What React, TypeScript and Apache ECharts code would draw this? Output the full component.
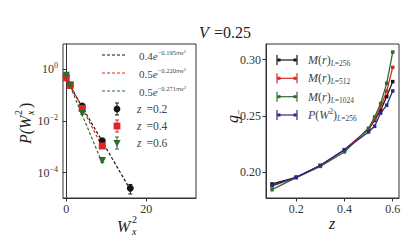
import React, { useEffect, useRef } from 'react';
import * as echarts from 'echarts';

// ---- Left panel data: P(W_x^2) ----
const w2Z02 = [0, 1, 4, 9, 16];
const pZ02 = [0.54, 0.24, 0.037, 0.0017, 0.000025];
const eZ02 = [0.02, 0.01, 0.003, 0.0003, 0.00001];
const w2Z04 = [0, 1, 4, 9];
const pZ04 = [0.46, 0.235, 0.03, 0.00107];
const eZ04 = [0.02, 0.01, 0.003, 0.00015];
const w2Z06 = [0, 1, 4, 9];
const pZ06 = [0.57, 0.24, 0.0195, 0.00029];
const eZ06 = [0.02, 0.01, 0.002, 0.00004];
// fitted lines (end points, straight on log axis)
const fitW02 = [0, 16];
const fitP02 = [0.4, 0.000022];
const fitW04 = [0, 9];
const fitP04 = [0.5, 0.00099];
const fitW06 = [0, 9];
const fitP06 = [0.5, 0.00024];
const leftXTicks = [0, 20];
const leftYTicks = [1e-4, 1e-2, 1];

// ---- Right panel data: g_- vs z ----
const zVals = [0.1, 0.2, 0.3, 0.4, 0.5, 0.525, 0.55, 0.575, 0.6];
const gM256 = [0.1894, 0.1953, 0.2057, 0.2199, 0.238, 0.246, 0.255, 0.2672, 0.2805];
const gM512 = [0.1875, 0.1953, 0.2057, 0.2197, 0.2385, 0.247, 0.258, 0.272, 0.2932];
const gM1024 = [0.1843, 0.195, 0.205, 0.2179, 0.239, 0.249, 0.261, 0.279, 0.3068];
const gP256 = [0.1882, 0.1953, 0.206, 0.2199, 0.2357, 0.2407, 0.2525, 0.2595, 0.2722];
const rightXTicks = [0.2, 0.4, 0.6];
const rightYTicks = [0.2, 0.25, 0.3];

const BLACK = '#151515';
const RED = '#e02424';
const GREEN = '#2f6a31';
const BLUE = '#2a2a8c';
const AX = '#333333';
const SERIF = "'Liberation Serif', 'DejaVu Serif', serif";

const zip = (a: number[], b: number[]) => a.map((v, i) => [v, b[i]]);

function errSeries(xs: number[], ys: number[], es: number[], color: string, xIdx: number) {
  return {
    type: 'custom',
    xAxisIndex: xIdx,
    yAxisIndex: xIdx,
    silent: true,
    z: 3,
    data: xs.map((x, i) => [x, ys[i] - es[i], ys[i] + es[i]]),
    renderItem: (params: any, api: any) => {
      const x = api.value(0);
      const lo = api.coord([x, api.value(1)]);
      const hi = api.coord([x, api.value(2)]);
      const cap = 2;
      const st = { stroke: color, lineWidth: 1 };
      return {
        type: 'group',
        children: [
          { type: 'line', shape: { x1: lo[0], y1: lo[1], x2: hi[0], y2: hi[1] }, style: st },
          { type: 'line', shape: { x1: lo[0] - cap, y1: lo[1], x2: lo[0] + cap, y2: lo[1] }, style: st },
          { type: 'line', shape: { x1: hi[0] - cap, y1: hi[1], x2: hi[0] + cap, y2: hi[1] }, style: st },
        ],
      };
    },
  };
}

function txt(x: number, y: number, text: string, extra: any = {}) {
  return {
    type: 'text',
    x,
    y,
    silent: true,
    style: {
      text,
      fontFamily: SERIF,
      fontSize: 11,
      fill: '#222',
      align: 'left',
      textAlign: 'left',
      verticalAlign: 'middle',
      textVerticalAlign: 'middle',
      ...extra,
    },
  };
}

function buildGraphics() {
  const g: any[] = [];
  // title
  g.push(txt(199, 32, 'V', { fontStyle: 'italic', fontSize: 16, fill: '#222' }));
  g.push(txt(214, 32, '=0.25', { fontSize: 16, fill: '#222' }));

  // left legend: dashed fit lines
  const fits = [
    { c: BLACK, a: '0.4', s: '−0.195πw²', y: 55 },
    { c: RED, a: '0.5', s: '−0.220πw²', y: 73 },
    { c: GREEN, a: '0.5', s: '−0.271πw²', y: 91 },
  ];
  fits.forEach((f) => {
    g.push({
      type: 'line', silent: true,
      shape: { x1: 102, y1: f.y, x2: 127, y2: f.y },
      style: { stroke: f.c, lineWidth: 1.2, lineDash: [3, 2] },
    });
    g.push(txt(139, f.y + 1, `{n|${f.a}}{i|e}{s|${f.s}}`, {
      rich: {
        n: { fontFamily: SERIF, fontSize: 11, fill: '#444', lineHeight: 14 },
        i: { fontFamily: SERIF, fontStyle: 'italic', fontSize: 11, fill: '#444', lineHeight: 14 },
        s: { fontFamily: SERIF, fontSize: 6.5, fill: '#444', verticalAlign: 'top', lineHeight: 8 },
      },
    }));
  });
  // left legend: markers with error bars
  const mk = [
    { c: BLACK, t: 'circle', lbl: '0.2', y: 109 },
    { c: RED, t: 'rect', lbl: '0.4', y: 126 },
    { c: GREEN, t: 'tri', lbl: '0.6', y: 143 },
  ];
  mk.forEach((m) => {
    const x = 117;
    const st = { stroke: m.c, lineWidth: 1 };
    g.push({ type: 'line', silent: true, shape: { x1: x, y1: m.y - 6, x2: x, y2: m.y + 6 }, style: st });
    g.push({ type: 'line', silent: true, shape: { x1: x - 2, y1: m.y - 6, x2: x + 2, y2: m.y - 6 }, style: st });
    g.push({ type: 'line', silent: true, shape: { x1: x - 2, y1: m.y + 6, x2: x + 2, y2: m.y + 6 }, style: st });
    if (m.t === 'circle') {
      g.push({ type: 'circle', silent: true, shape: { cx: x, cy: m.y, r: 3.4 }, style: { fill: m.c } });
    } else if (m.t === 'rect') {
      g.push({ type: 'rect', silent: true, shape: { x: x - 3.4, y: m.y - 3.4, width: 6.8, height: 6.8 }, style: { fill: m.c } });
    } else {
      g.push({ type: 'polygon', silent: true, shape: { points: [[x - 3.7, m.y - 3], [x + 3.7, m.y - 3], [x, m.y + 3.7]] }, style: { fill: m.c } });
    }
    g.push(txt(137, m.y, 'z', { fontStyle: 'italic', fontSize: 11.5, fill: '#444' }));
    g.push(txt(146.5, m.y, '=' + m.lbl, { fontSize: 11.5, fill: '#444' }));
  });

  // right legend
  const rl = [
    { c: BLACK, y: 60, txt: '{i|M}{n|(}{i|r}{n|)}{sub|L}{sn|=256}' },
    { c: RED, y: 78.3, txt: '{i|M}{n|(}{i|r}{n|)}{sub|L}{sn|=512}' },
    { c: GREEN, y: 96.7, txt: '{i|M}{n|(}{i|r}{n|)}{sub|L}{sn|=1024}' },
    { c: BLUE, y: 115, txt: '{i|P}{n|(}{i|W}{sup|2}{n|)}{sub|L}{sn|=256}' },
  ];
  rl.forEach((r) => {
    const st = { stroke: r.c, lineWidth: 1.2 };
    g.push({ type: 'line', silent: true, shape: { x1: 277, y1: r.y, x2: 297, y2: r.y }, style: st });
    g.push({ type: 'line', silent: true, shape: { x1: 277, y1: r.y - 5, x2: 277, y2: r.y + 5 }, style: st });
    g.push({ type: 'line', silent: true, shape: { x1: 297, y1: r.y - 5, x2: 297, y2: r.y + 5 }, style: st });
    g.push({ type: 'rect', silent: true, shape: { x: 277.5, y: r.y - 1.5, width: 3, height: 3 }, style: { fill: r.c } });
    g.push({ type: 'rect', silent: true, shape: { x: 293.5, y: r.y - 1.5, width: 3, height: 3 }, style: { fill: r.c } });
    g.push(txt(308, r.y, r.txt, {
      rich: {
        i: { fontFamily: SERIF, fontStyle: 'italic', fontSize: 12, fill: '#444', lineHeight: 15 },
        n: { fontFamily: SERIF, fontSize: 12, fill: '#444', lineHeight: 15 },
        sub: { fontFamily: SERIF, fontStyle: 'italic', fontSize: 7.5, fill: '#444', verticalAlign: 'bottom', lineHeight: 9 },
        sn: { fontFamily: SERIF, fontSize: 7.5, fill: '#444', verticalAlign: 'bottom', lineHeight: 9 },
        sup: { fontFamily: SERIF, fontSize: 7.5, fill: '#444', verticalAlign: 'top', lineHeight: 9 },
      },
    }));
  });

  // left x title W_x^2
  g.push(txt(117, 226, 'W', { fontStyle: 'italic', fontSize: 16, fill: '#222' }));
  g.push(txt(132, 219, '2', { fontSize: 10, fill: '#222' }));
  g.push(txt(132, 231, 'x', { fontStyle: 'italic', fontSize: 10, fill: '#222' }));
  // left y title P(W_x^2), rotated
  g.push({
    type: 'group', x: 25, y: 121, rotation: Math.PI / 2, silent: true,
    children: [
      txt(-23, 0, 'P(W', { fontStyle: 'italic', fontSize: 16, fill: '#222' }),
      txt(6, -7, '2', { fontSize: 10, fill: '#222' }),
      txt(6, 5, 'x', { fontStyle: 'italic', fontSize: 10, fill: '#222' }),
      txt(13, 0, ')', { fontSize: 16, fill: '#222' }),
    ],
  });
  // right x title z
  g.push(txt(332, 223, 'z', { fontStyle: 'italic', fontSize: 16, fill: '#222', align: 'center', textAlign: 'center' }));
  // right y title g_-
  g.push({
    type: 'group', x: 233, y: 117, rotation: Math.PI / 2, silent: true,
    children: [
      txt(-6, -1, 'g', { fontStyle: 'italic', fontSize: 16, fill: '#222' }),
      txt(2, 5, '−', { fontSize: 10, fill: '#222' }),
    ],
  });
  return g;
}

export default function App() {
  const ref = useRef<HTMLDivElement>(null);
  useEffect(() => {
    if (!ref.current) return;
    const chart = echarts.init(ref.current, null, { renderer: 'svg' });
    const tickLabelStyle = { fontFamily: SERIF, fontSize: 12, color: '#333' };
    const axisCommon = {
      axisLine: { show: true, lineStyle: { color: AX, width: 1 } },
      splitLine: { show: false },
    };
    const option: any = {
      animation: false,
      backgroundColor: '#ffffff',
      grid: [
        { left: 63, top: 44, width: 133, height: 154, show: true, borderColor: AX, borderWidth: 1, backgroundColor: 'transparent' },
        { left: 266, top: 44, width: 133, height: 154, show: true, borderColor: AX, borderWidth: 1, backgroundColor: 'transparent' },
      ],
      xAxis: [
        {
          type: 'value', gridIndex: 0, min: -0.8, max: 32.4, ...axisCommon,
          axisTick: { show: true, inside: false, length: 3.5, lineStyle: { color: AX }, customValues: leftXTicks },
          axisLabel: { ...tickLabelStyle, margin: 5, customValues: leftXTicks, formatter: (v: number) => String(v) },
        },
        {
          type: 'value', gridIndex: 1, min: 0.075, max: 0.626, ...axisCommon,
          axisTick: { show: true, inside: false, length: 3.5, lineStyle: { color: AX }, customValues: rightXTicks },
          axisLabel: { ...tickLabelStyle, margin: 5, customValues: rightXTicks, formatter: (v: number) => v.toFixed(1) },
        },
      ],
      yAxis: [
        {
          type: 'log', logBase: 10, gridIndex: 0, min: 0.0000105, max: 9.3, ...axisCommon,
          axisTick: { show: true, inside: false, length: 3.5, lineStyle: { color: AX }, customValues: leftYTicks },
          axisLabel: {
            margin: 5,
            customValues: leftYTicks,
            formatter: (v: number) => {
              const e = Math.round(Math.log10(v));
              return `{b|10}{s|${e < 0 ? '−' + -e : e}}`;
            },
            rich: {
              b: { fontFamily: SERIF, fontSize: 12, color: '#333', lineHeight: 15 },
              s: { fontFamily: SERIF, fontSize: 8, color: '#333', verticalAlign: 'top', lineHeight: 9 },
            },
          },
        },
        {
          type: 'value', gridIndex: 1, min: 0.1769, max: 0.314, ...axisCommon,
          axisTick: { show: true, inside: false, length: 3.5, lineStyle: { color: AX }, customValues: rightYTicks },
          axisLabel: { ...tickLabelStyle, margin: 5, customValues: rightYTicks, formatter: (v: number) => v.toFixed(2) },
        },
      ],
      series: [
        // fits
        { type: 'line', xAxisIndex: 0, yAxisIndex: 0, data: zip(fitW02, fitP02), symbol: 'none', z: 2, lineStyle: { color: BLACK, width: 1.2, type: [3, 2] } },
        { type: 'line', xAxisIndex: 0, yAxisIndex: 0, data: zip(fitW04, fitP04), symbol: 'none', z: 2, lineStyle: { color: RED, width: 1.2, type: [3, 2] } },
        { type: 'line', xAxisIndex: 0, yAxisIndex: 0, data: zip(fitW06, fitP06), symbol: 'none', z: 2, lineStyle: { color: GREEN, width: 1.2, type: [3, 2] } },
        // error bars + markers
        errSeries(w2Z02, pZ02, eZ02, BLACK, 0),
        { type: 'scatter', xAxisIndex: 0, yAxisIndex: 0, data: zip(w2Z02, pZ02), symbol: 'circle', symbolSize: 7, itemStyle: { color: BLACK, opacity: 1 }, z: 4 },
        errSeries(w2Z04, pZ04, eZ04, RED, 0),
        { type: 'scatter', xAxisIndex: 0, yAxisIndex: 0, data: zip(w2Z04, pZ04), symbol: 'rect', symbolSize: 7, itemStyle: { color: RED, opacity: 1 }, z: 5 },
        errSeries(w2Z06, pZ06, eZ06, GREEN, 0),
        { type: 'scatter', xAxisIndex: 0, yAxisIndex: 0, data: zip(w2Z06, pZ06), symbol: 'triangle', symbolRotate: 180, symbolSize: 7.5, itemStyle: { color: GREEN, opacity: 1 }, z: 6 },
        // right panel
        { type: 'line', xAxisIndex: 1, yAxisIndex: 1, data: zip(zVals, gM256), symbol: 'rect', symbolSize: 3.5, showSymbol: true, itemStyle: { color: BLACK }, lineStyle: { color: BLACK, width: 1.3 }, z: 2 },
        { type: 'line', xAxisIndex: 1, yAxisIndex: 1, data: zip(zVals, gM512), symbol: 'rect', symbolSize: 3.5, showSymbol: true, itemStyle: { color: RED }, lineStyle: { color: RED, width: 1.3 }, z: 3 },
        { type: 'line', xAxisIndex: 1, yAxisIndex: 1, data: zip(zVals, gM1024), symbol: 'rect', symbolSize: 3.5, showSymbol: true, itemStyle: { color: GREEN }, lineStyle: { color: GREEN, width: 1.3 }, z: 4 },
        { type: 'line', xAxisIndex: 1, yAxisIndex: 1, data: zip(zVals, gP256), symbol: 'rect', symbolSize: 3.5, showSymbol: true, itemStyle: { color: BLUE }, lineStyle: { color: BLUE, width: 1.3 }, z: 5 },
      ],
      graphic: buildGraphics(),
    };
    chart.setOption(option);
    return () => chart.dispose();
  }, []);
  return <div ref={ref} style={{ width: 415, height: 249, position: 'absolute', left: 0, top: 0 }} />;
}
